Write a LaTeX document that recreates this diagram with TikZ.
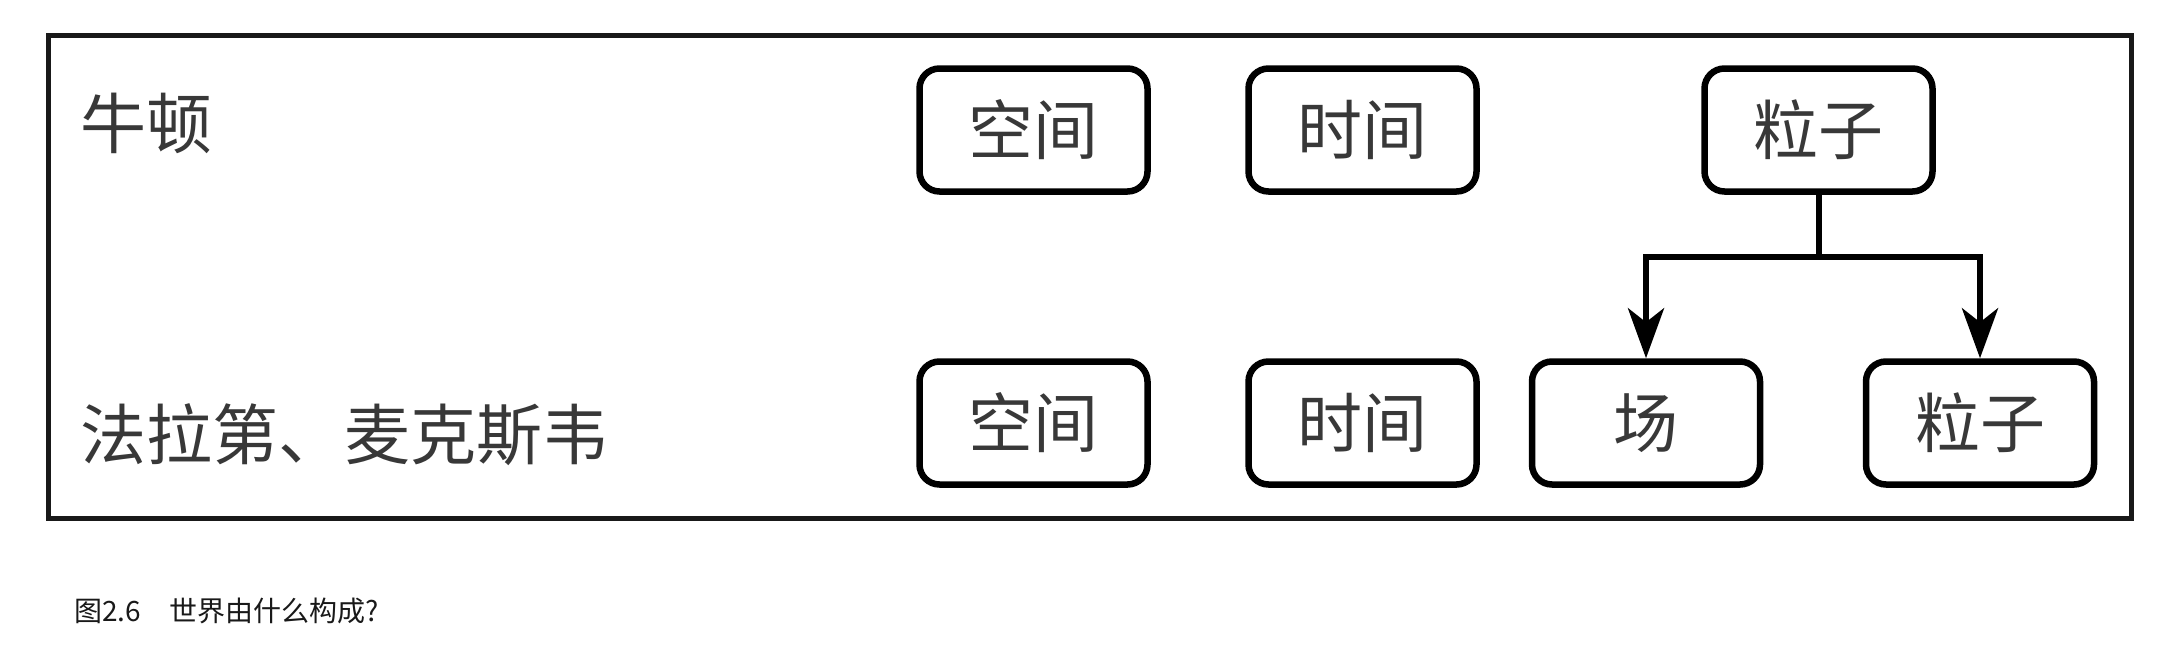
\documentclass[tikz,border=0pt]{standalone}
\usepackage{fontspec}
\newfontfamily\cjk{Noto Sans CJK SC}
\usetikzlibrary{arrows.meta,calc}
\tikzset{
  concept/.style={draw=black, line width=6.5pt, rounded corners=20pt,
    minimum width=228pt, minimum height=123pt, inner sep=0pt,
    font=\cjk\fontsize{65}{72}\selectfont, text=black!78},
  rowlabel/.style={anchor=west, inner sep=0pt,
    font=\cjk\fontsize{66}{72}\selectfont, text=black!78},
  link/.style={line width=6pt, draw=black},
  arrowlink/.style={link, -{Stealth[length=50pt, width=36pt, inset=14pt]}},
  frame/.style={draw=black!90, line width=5pt},
  caption/.style={anchor=west, inner sep=0pt, font=\cjk\fontsize{28}{32}\selectfont, text=black!90}
}
\begin{document}
\begin{tikzpicture}[x=1pt, y=-1pt]
  \fill[white] (0,0) rectangle (2168,662);
  \useasboundingbox (0,0) rectangle (2168,662);
  \draw[frame] (48,35) rectangle (2131,518);
  % row labels
  \node[rowlabel] (newton) at (80,123) {牛顿};
  \node[rowlabel] (faraday) at (80,435) {法拉第、麦克斯韦};
  % top row
  \node[concept] (s1) at (1033.5,130) {空间};
  \node[concept] (t1) at (1362.5,130) {时间};
  \node[concept] (p1) at (1818.5,130) {粒子};
  % bottom row
  \node[concept] (s2) at (1033.5,423) {空间};
  \node[concept] (t2) at (1362.5,423) {时间};
  \node[concept] (f)  at (1646,423) {场};
  \node[concept] (p2) at (1980,423) {粒子};
  % connectors
  \coordinate (j) at ($(p1.south)+(0,62)$);
  \draw[link] (p1.south) -- (j);
  \draw[arrowlink] (j) -| (f.north);
  \draw[arrowlink] (j) -| (p2.north);
  % caption
  \node[caption] (cap) at (74,611) {图2.6　世界由什么构成?};
\end{tikzpicture}
\end{document}
